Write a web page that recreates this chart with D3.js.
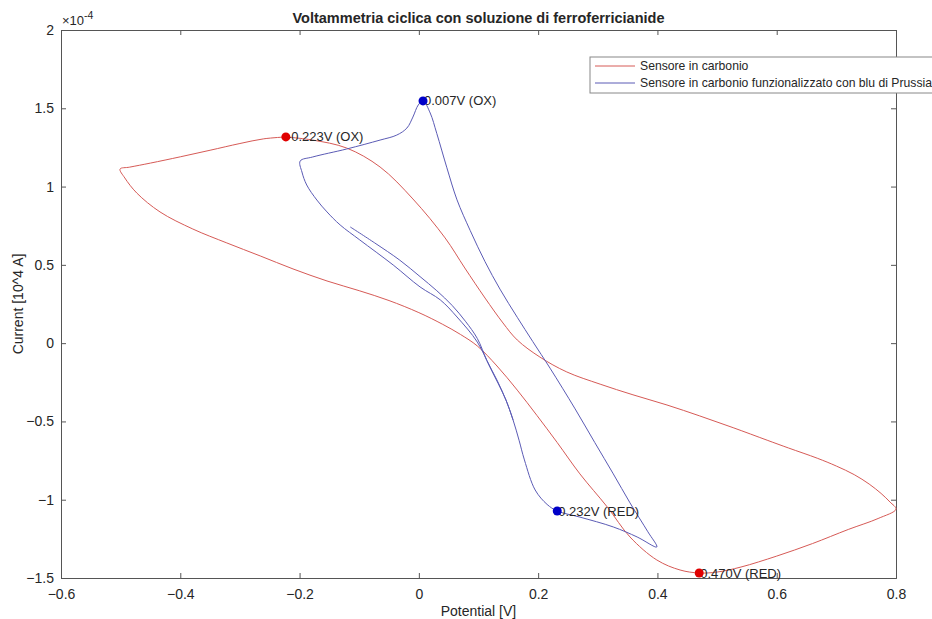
<!DOCTYPE html>
<html>
<head>
<meta charset="utf-8">
<script src="https://cdn.jsdelivr.net/npm/d3@7"></script>
<style>
  body { margin: 0; background: #fff; }
  text { font-family: "Liberation Sans", Arial, sans-serif; fill: #262626; }
</style>
</head>
<body>
<svg id="chart"></svg>
<script>
const WIDTH = 932,
  HEIGHT = 619,
  margin = { top: 30, right: 36, bottom: 41, left: 61 };

// red curve: Sensore in carbonio (potential V, current 1e-4 A)
const redV = [-0.223, -0.26, -0.30, -0.35, -0.40, -0.45, -0.485, -0.501, -0.493, -0.473,
  -0.434, -0.379, -0.322, -0.266, -0.211, -0.154, -0.10, -0.05, 0.0, 0.04,
  0.07, 0.098, 0.131, 0.165, 0.198, 0.232, 0.270, 0.316, 0.354, 0.399,
  0.438, 0.470, 0.50, 0.54, 0.60, 0.66, 0.72, 0.77, 0.800, 0.790,
  0.775, 0.755, 0.730, 0.700, 0.668, 0.620, 0.584, 0.527, 0.471, 0.416,
  0.359, 0.304, 0.248, 0.203, 0.165, 0.141, 0.111, 0.077, 0.044, -0.010,
  -0.065, -0.121, -0.178, -0.223];
const redI = [1.317, 1.305, 1.275, 1.232, 1.190, 1.150, 1.124, 1.112, 1.055, 0.959,
  0.838, 0.729, 0.640, 0.557, 0.474, 0.397, 0.335, 0.272, 0.195, 0.120,
  0.055, -0.018, -0.146, -0.300, -0.462, -0.635, -0.835, -1.047, -1.238, -1.385,
  -1.449, -1.468, -1.462, -1.430, -1.360, -1.280, -1.190, -1.120, -1.060, -1.015,
  -0.960, -0.900, -0.840, -0.785, -0.735, -0.670, -0.620, -0.540, -0.465, -0.395,
  -0.330, -0.262, -0.184, -0.089, 0.020, 0.129, 0.288, 0.480, 0.672, 0.921,
  1.125, 1.246, 1.297, 1.317];

// blue curve: Sensore in carbonio funzionalizzato con blu di Prussia
const blueV = [-0.115, -0.074, -0.032, 0.002, 0.030, 0.056, 0.078, 0.098, 0.114, 0.131,
  0.146, 0.158, 0.168, 0.177, 0.195, 0.215, 0.232, 0.270, 0.326, 0.366,
  0.399, 0.384, 0.354, 0.326, 0.295, 0.262, 0.220, 0.191, 0.165, 0.136,
  0.111, 0.086, 0.064, 0.047, 0.030, 0.019, 0.007, -0.001, -0.010, -0.020,
  -0.037, -0.065, -0.121, -0.178, -0.199, -0.196, -0.188, -0.171, -0.154, -0.132,
  -0.099, -0.043, 0.002, 0.036, 0.064, 0.098, 0.119, 0.146, 0.158];
const blueI = [0.742, 0.640, 0.530, 0.425, 0.335, 0.240, 0.140, 0.030, -0.110, -0.236,
  -0.363, -0.491, -0.620, -0.746, -0.938, -1.030, -1.072, -1.111, -1.174, -1.238,
  -1.302, -1.205, -1.020, -0.835, -0.635, -0.420, -0.160, 0.010, 0.165, 0.345,
  0.520, 0.720, 0.915, 1.120, 1.340, 1.470, 1.547, 1.521, 1.444, 1.374,
  1.329, 1.297, 1.240, 1.189, 1.163, 1.093, 1.010, 0.914, 0.838, 0.755,
  0.659, 0.499, 0.359, 0.276, 0.167, 0.007, -0.152, -0.363, -0.491];

// marked peaks
const peakV = [-0.223, 0.007, 0.232, 0.470];
const peakI = [1.317, 1.547, -1.072, -1.468];
const peakLabels = ["-0.223V (OX)", "0.007V (OX)", "0.232V (RED)", "0.470V (RED)"];
const peakColors = ["#e00000", "#0000c8", "#0000c8", "#e00000"];

const xTicks = [-0.6, -0.4, -0.2, 0, 0.2, 0.4, 0.6, 0.8];
const yTicks = [-1.5, -1, -0.5, 0, 0.5, 1, 1.5, 2];
const seriesNames = ["Sensore in carbonio", "Sensore in carbonio funzionalizzato con blu di Prussia"];
const seriesColors = ["#d65a56", "#5b5bb5"];

const svg = d3.select("#chart")
  .attr("width", WIDTH)
  .attr("height", HEIGHT);

const x = d3.scaleLinear().domain([-0.6, 0.8]).range([margin.left, WIDTH - margin.right]);
const y = d3.scaleLinear().domain([-1.5, 2]).range([HEIGHT - margin.bottom, margin.top]);

const AXIS = "#555";

// axes, matlab style: ticks inside, mirrored on top/right
const fmt = d => d3.format("")(+d.toFixed(2));
svg.append("g")
  .attr("transform", `translate(0,${y(-1.5)})`)
  .call(d3.axisBottom(x).tickValues(xTicks).tickSize(-5).tickPadding(11).tickFormat(fmt))
  .call(g => g.selectAll("text").attr("font-size", 14));
svg.append("g")
  .attr("transform", `translate(0,${y(2)})`)
  .call(d3.axisTop(x).tickValues(xTicks).tickSize(-5).tickFormat(""));
svg.append("g")
  .attr("transform", `translate(${x(-0.6)},0)`)
  .call(d3.axisLeft(y).tickValues(yTicks).tickSize(-5).tickPadding(7).tickFormat(fmt))
  .call(g => g.selectAll("text").attr("font-size", 14));
svg.append("g")
  .attr("transform", `translate(${x(0.8)},0)`)
  .call(d3.axisRight(y).tickValues(yTicks).tickSize(-5).tickFormat(""));

svg.selectAll(".domain").attr("stroke", AXIS);
svg.selectAll(".tick line").attr("stroke", AXIS);
svg.selectAll(".tick text").attr("fill", "#262626").attr("font-family", "Liberation Sans, Arial, sans-serif");

// curves
const line = d3.line()
  .x(d => x(d[0]))
  .y(d => y(d[1]))
  .curve(d3.curveCatmullRom.alpha(0.5));

const redData = d3.zip(redV, redI),
  blueData = d3.zip(blueV, blueI);

svg.append("path")
  .datum(redData)
  .attr("d", line)
  .attr("fill", "none")
  .attr("stroke", seriesColors[0])
  .attr("stroke-width", 1);

svg.append("path")
  .datum(blueData)
  .attr("d", line)
  .attr("fill", "none")
  .attr("stroke", seriesColors[1])
  .attr("stroke-width", 1);

// peak labels then dots on top (dot hides the first glyph like in the original)
const peaks = d3.zip(peakV, peakI, peakLabels, peakColors);
svg.append("g")
  .selectAll("text")
  .data(peaks)
  .enter()
  .append("text")
  .attr("x", d => x(d[0]) + 1)
  .attr("y", d => y(d[1]))
  .attr("dy", ".35em")
  .attr("font-size", 13)
  .attr("fill", "#111")
  .text(d => d[2]);
svg.append("g")
  .selectAll("circle")
  .data(peaks)
  .enter()
  .append("circle")
  .attr("cx", d => x(d[0]))
  .attr("cy", d => y(d[1]))
  .attr("r", 4.5)
  .attr("fill", d => d[3]);

// title, labels, exponent
svg.append("text")
  .attr("x", (x(-0.6) + x(0.8)) / 2)
  .attr("y", 23)
  .attr("text-anchor", "middle")
  .attr("font-size", 14.5)
  .attr("font-weight", "bold")
  .attr("fill", "#111")
  .text("Voltammetria ciclica con soluzione di ferroferricianide");

svg.append("text")
  .attr("x", (x(-0.6) + x(0.8)) / 2)
  .attr("y", 616)
  .attr("text-anchor", "middle")
  .attr("font-size", 14)
  .text("Potential [V]");

svg.append("text")
  .attr("transform", `translate(23,${(y(-1.5) + y(2)) / 2}) rotate(-90)`)
  .attr("text-anchor", "middle")
  .attr("font-size", 14)
  .text("Current [10^4 A]");

const expo = svg.append("text")
  .attr("x", 62)
  .attr("y", 25)
  .attr("font-size", 13);
expo.append("tspan").text("\u00d710");
expo.append("tspan").attr("dy", -6).attr("font-size", 10.5).text("-4");

// legend
const legend = svg.append("g").attr("transform", "translate(590,57)");
legend.append("rect")
  .attr("width", 360)
  .attr("height", 36)
  .attr("fill", "#fff")
  .attr("stroke", "#888")
  .attr("stroke-width", 1);
seriesNames.forEach((name, i) => {
  legend.append("line")
    .attr("x1", 5).attr("x2", 45)
    .attr("y1", 9 + i * 17).attr("y2", 9 + i * 17)
    .attr("stroke", seriesColors[i])
    .attr("stroke-width", 1);
  legend.append("text")
    .attr("x", 50)
    .attr("y", 9 + i * 17)
    .attr("dy", ".35em")
    .attr("font-size", 12.2)
    .text(name);
});
</script>
</body>
</html>
